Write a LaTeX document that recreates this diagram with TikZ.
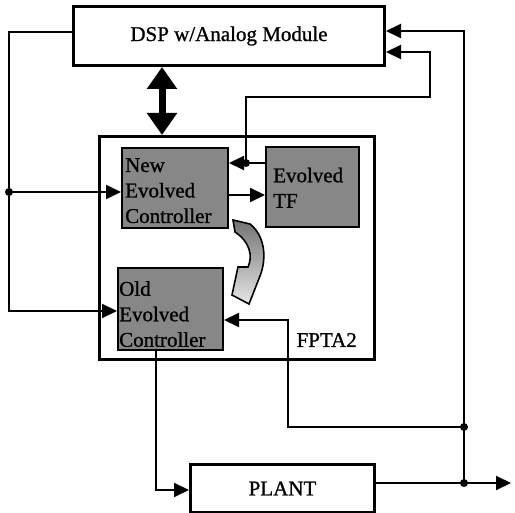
\documentclass[tikz,border=0pt]{standalone}
\usepackage{fontspec}
\setmainfont{Liberation Serif}[FakeBold=1]
\usetikzlibrary{arrows.meta}
\begin{document}
\begin{tikzpicture}[x=1pt,y=-1pt,
  box/.style={draw,line width=3pt,inner sep=0,anchor=north west,font=\fontsize{21}{25.5}\selectfont},
  gbox/.style={draw,line width=2pt,fill=black!47,inner sep=0,anchor=north west},
  lbl/.style={font=\fontsize{21}{25.5}\selectfont,inner sep=0,align=left},
  wire/.style={line width=2pt},
  arr/.style={wire,-{Triangle[length=15pt,width=14pt]}},
  bigarr/.style={line width=7pt,{Triangle[length=22pt,width=29pt]}-{Triangle[length=22pt,width=29pt]}},
  jdot/.style={circle,fill,inner sep=0,minimum size=8pt}]
\useasboundingbox (0,0) rectangle (515,513);
% boxes
\node[box,minimum width=311pt,minimum height=59pt] (dsp) at (72,5) {DSP w/Analog Module};
\node[box,minimum width=275pt,minimum height=223pt] (fpta) at (98,135) {};
\node[gbox,minimum width=106pt,minimum height=80pt] (newc) at (121,147) {};
\node[gbox,minimum width=93pt,minimum height=80pt] (tf) at (265,146) {};
\node[gbox,minimum width=105pt,minimum height=82pt] (oldc) at (117,267) {};
\node[box,minimum width=184pt,minimum height=48pt] (plant) at (189,463) {PLANT};
% labels
\node[lbl,anchor=north west] (newct) at (125,158) {New\\Evolved\\Controller};
\node[lbl,anchor=north west] (tft) at (273,167.5) {Evolved\\TF};
\node[lbl,anchor=north west] (oldct) at (119,281) {Old\\Evolved\\Controller};
\node[lbl,anchor=base east] (fptat) at (357,347) {FPTA2};
% coordinates
\coordinate (c1) at (9,32);
\coordinate (j1) at (9,192);
\coordinate (c2) at (9,311);
\coordinate (j2) at (246,163);
\coordinate (c3) at (246,97);
\coordinate (c4) at (430,97);
\coordinate (c5) at (430,52);
\coordinate (c6) at (0,195);
\coordinate (j3) at (464,427);
\coordinate (j4) at (464,483);
\coordinate (c7) at (464,31);
\coordinate (out) at (511,483);
\coordinate (c8) at (288,427);
\coordinate (c9) at (288,320);
\coordinate (c10) at (156,349);
\coordinate (c11) at (156,490);
\coordinate (x162) at (162,0);
% wires
\draw[arr] (dsp.west |- c1) -- (c1) -- (c2) -- (oldc.west |- c2);
\draw[arr] (j1) -- (newc.west |- j1);
\draw[arr] (tf.west |- j2) -- (newc.east |- j2);
\draw[arr] (j2) -- (c3) -- (c4) -- (c5) -- (dsp.east |- c5);
\draw[arr] (newc.east |- c6) -- (tf.west |- c6);
\draw[arr] (plant.east |- j4) -- (out);
\draw[arr] (j4) -- (c7) -- (dsp.east |- c7);
\draw[arr] (j3) -- (c8) -- (c9) -- (oldc.east |- c9);
\draw[arr] (c10) -- (c11) -- (plant.west |- c11);
\draw[bigarr] (dsp.south -| x162) -- (fpta.north -| x162);
\node[jdot] at (j1) {};
\node[jdot] at (j2) {};
\node[jdot] at (j3) {};
\node[jdot] at (j4) {};
% curved transfer arrow
\shadedraw[top color=black!55,bottom color=black!10,draw=black,line width=1.6pt,line join=miter]
  (233,220) -- (250,224) .. controls (265,236) and (267,258) .. (260,276)
  -- (249,304) -- (232,295) -- (238,267) -- (248,267)
  .. controls (253,256) and (250,242) .. (235,232) -- cycle;
\end{tikzpicture}
\end{document}
